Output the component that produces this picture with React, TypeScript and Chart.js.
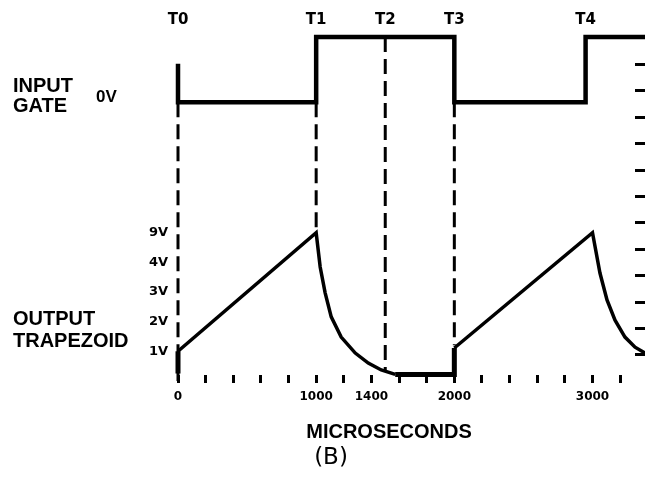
import React, { useEffect, useRef } from 'react';
import { Chart, registerables } from 'chart.js';

Chart.register(...registerables);

// ---- Data ----
// Time axis in microseconds; vertical values in the output's volt scale.
const X_MAX = 3380;

// Input gate waveform (drawn above the output, on the same vertical scale)
const GATE_T = [0, 0, 1000, 1000, 2000, 2000, 2950, 2950, 3380];
const GATE_V = [10.7, 9.4, 9.4, 11.6, 11.6, 9.4, 9.4, 11.6, 11.6];

// Output trapezoid waveform
const OUT_T = [0, 0, 1000, 1029, 1065, 1109, 1181, 1283, 1377, 1471, 1572, 2000, 2000, 3000, 3054, 3105, 3163, 3235, 3308, 3380];
const OUT_V = [0.25, 1.0, 5.0, 3.84, 2.97, 2.16, 1.48, 0.94, 0.6, 0.37, 0.22, 0.22, 1.11, 5.0, 3.64, 2.73, 2.05, 1.48, 1.14, 0.94];

// Dashed timing markers
const MARK_T = [0, 1000, 1500, 2000];
const MARK_TOP = [9.4, 9.4, 11.6, 9.4];
const MARK_BOTTOM = [0.0, 5.1, 0.3, 1.2];

// Axis ticks / labels
const TOP_TICKS = [0, 1000, 1500, 2000, 2950];
const TOP_LABELS = ['T0', 'T1', 'T2', 'T3', 'T4'];
const X_TICKS = [0, 200, 400, 600, 800, 1000, 1200, 1400, 1600, 1800, 2000, 2200, 2400, 2600, 2800, 3000, 3200];
const X_LABELED = [0, 1000, 1400, 2000, 3000];
const Y_TICKS = [1, 2, 3, 4, 5];
const Y_LABELS = ['1V', '2V', '3V', '4V', '9V'];
const R_TICKS = [1, 2, 3, 4, 5, 6, 7, 8, 9, 10, 11, 12];

const BIG = 'bold 20px "Liberation Sans", Arial, sans-serif';

export default function App() {
  const ref = useRef<HTMLCanvasElement | null>(null);

  useEffect(() => {
    if (!ref.current) return;

    const textPlugin = {
      id: 'sideText',
      afterDraw(chart: any) {
        const ctx = chart.ctx as CanvasRenderingContext2D;
        ctx.save();
        ctx.fillStyle = '#000';
        ctx.textAlign = 'left';
        ctx.font = BIG;
        ctx.fillText('INPUT', 13, 92);
        ctx.fillText('GATE', 13, 112);
        ctx.fillText('OUTPUT', 13, 325);
        ctx.fillText('TRAPEZOID', 13, 347);
        ctx.font = 'bold 17px "Liberation Sans", Arial, sans-serif';
        ctx.fillText('0V', 96, 102);
        ctx.textAlign = 'center';
        ctx.font = BIG;
        ctx.fillText('MICROSECONDS', 389, 438);
        ctx.font = '23px "DejaVu Sans", sans-serif';
        ctx.fillText('(B)', 331, 464);
        ctx.restore();
      },
    };

    const line = (xs: number[], ys: number[]) => xs.map((x, i) => ({ x, y: ys[i] }));

    const markerSets = MARK_T.map((t, i) => ({
      label: 'marker' + i,
      data: [
        { x: t, y: MARK_TOP[i] },
        { x: t, y: MARK_BOTTOM[i] },
      ],
      borderColor: '#000',
      borderWidth: 3,
      borderDash: [15, 7],
      borderCapStyle: 'butt',
      pointRadius: 0,
      tension: 0,
      clip: false,
      order: 3,
    }));

    const noPad = (s: any) => {
      s.paddingLeft = 0;
      s.paddingRight = 0;
      s.paddingTop = 0;
      s.paddingBottom = 0;
    };

    const chart = new Chart(ref.current, {
      type: 'line',
      data: {
        datasets: [
          {
            label: 'Input gate',
            data: line(GATE_T, GATE_V),
            borderColor: '#000',
            borderWidth: 4.5,
            borderJoinStyle: 'miter',
            pointRadius: 0,
            tension: 0,
            clip: false,
            order: 1,
          },
          {
            label: 'Output trapezoid',
            data: line(OUT_T, OUT_V),
            borderColor: '#000',
            borderWidth: 3.5,
            pointRadius: 0,
            tension: 0,
            clip: false,
            order: 2,
            segment: {
              borderWidth: (c: any) =>
                c.p0.parsed.x === c.p1.parsed.x || c.p0.parsed.y === c.p1.parsed.y ? 5 : 3.5,
            },
          },
          ...markerSets,
        ] as any,
      },
      options: {
        responsive: false,
        maintainAspectRatio: false,
        animation: false,
        devicePixelRatio: 1,
        events: [],
        layout: { padding: 0 },
        plugins: {
          legend: { display: false },
          tooltip: { enabled: false },
          title: { display: false },
        },
        scales: {
          x: {
            type: 'linear',
            position: 'bottom',
            min: 0,
            max: X_MAX,
            afterFit: (s: any) => {
              s.height = 111;
              noPad(s);
            },
            afterBuildTicks: (s: any) => {
              s.ticks = X_TICKS.map((v) => ({ value: v }));
            },
            border: { display: false },
            grid: {
              drawOnChartArea: false,
              drawTicks: true,
              tickLength: 8,
              lineWidth: 3,
              color: '#000',
            },
            ticks: {
              autoSkip: false,
              maxRotation: 0,
              padding: 7,
              color: '#000',
              font: { family: '"DejaVu Sans", sans-serif', weight: 'bold', size: 12 },
              callback: (v: any) => (X_LABELED.includes(Number(v)) ? String(v) : ''),
            },
          },
          xTop: {
            type: 'linear',
            position: 'top',
            min: 0,
            max: X_MAX,
            afterFit: (s: any) => {
              s.height = 37;
              noPad(s);
            },
            afterBuildTicks: (s: any) => {
              s.ticks = TOP_TICKS.map((v) => ({ value: v }));
            },
            border: { display: false },
            grid: { display: false, drawTicks: false },
            ticks: {
              autoSkip: false,
              maxRotation: 0,
              padding: 8,
              color: '#000',
              font: { family: '"DejaVu Sans", sans-serif', weight: 'bold', size: 15 },
              callback: (_v: any, i: number) => TOP_LABELS[i],
            },
          },
          y: {
            type: 'linear',
            position: 'left',
            min: 0.2,
            max: 11.6,
            afterFit: (s: any) => {
              s.width = 178;
              noPad(s);
            },
            afterBuildTicks: (s: any) => {
              s.ticks = Y_TICKS.map((v) => ({ value: v }));
            },
            border: { display: false },
            grid: { display: false, drawTicks: false },
            ticks: {
              padding: 10,
              color: '#000',
              font: { family: '"DejaVu Sans", sans-serif', weight: 'bold', size: 13 },
              callback: (_v: any, i: number) => Y_LABELS[i],
            },
          },
          yR: {
            type: 'linear',
            axis: 'y',
            position: { x: X_MAX },
            min: 0.24,
            max: 13.04,
            afterFit: (s: any) => {
              noPad(s);
            },
            afterBuildTicks: (s: any) => {
              s.ticks = R_TICKS.map((v) => ({ value: v }));
            },
            border: { display: false },
            grid: {
              drawOnChartArea: false,
              drawTicks: true,
              tickLength: 10,
              lineWidth: 3,
              color: '#000',
            },
            ticks: { display: false },
          },
        },
      } as any,
      plugins: [textPlugin],
    });

    return () => chart.destroy();
  }, []);

  return (
    <div style={{ position: 'fixed', left: 0, top: 0, width: 645, height: 486, background: '#fff' }}>
      <canvas ref={ref} width={645} height={486} style={{ display: 'block' }} />
    </div>
  );
}
